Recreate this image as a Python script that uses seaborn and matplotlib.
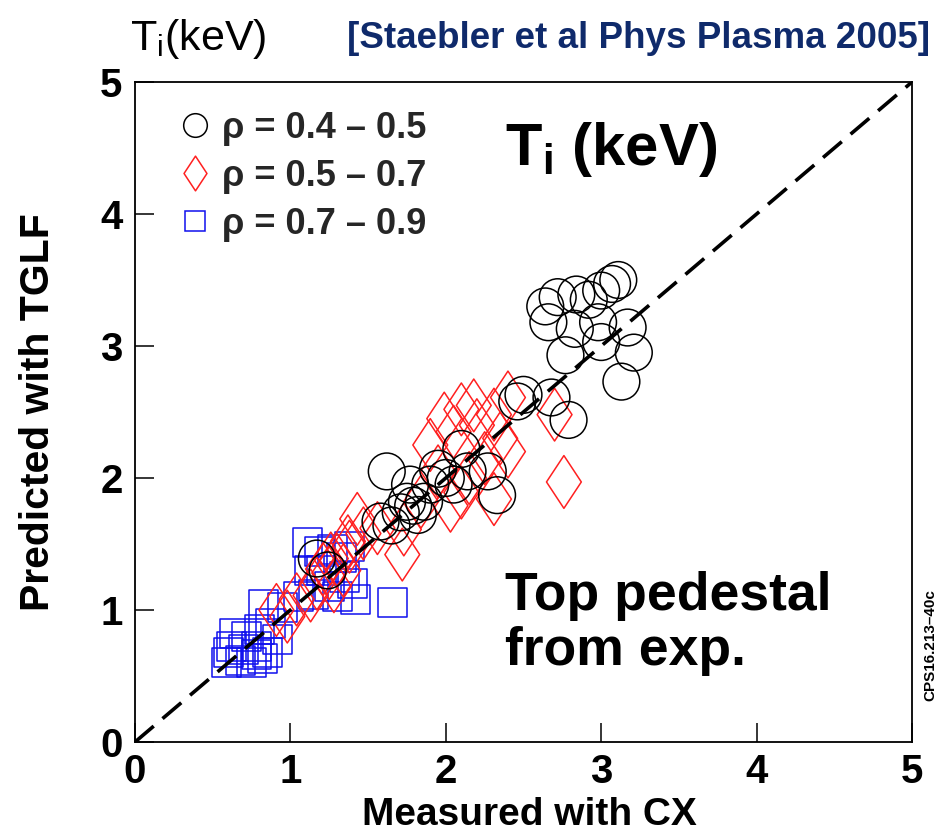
import numpy as np
import pandas as pd
import matplotlib
matplotlib.use("Agg")
import matplotlib.pyplot as plt
from matplotlib.path import Path
from matplotlib.lines import Line2D
from matplotlib.markers import MarkerStyle
import seaborn as sns

# Ion temperature at the top of the pedestal: measured (CX) vs predicted (TGLF), keV
circle_meas = [2.64, 2.72, 2.84, 2.92, 3.00, 3.07, 3.11, 2.66, 2.83, 2.98, 3.00, 3.17, 3.21,
               3.13, 2.77, 2.50, 2.68, 2.79, 2.46,
               1.62, 1.77, 1.95, 2.10, 2.14, 2.27, 2.33, 1.58, 1.71, 1.79, 1.86, 1.65, 1.90,
               2.00, 1.82, 1.75, 2.05, 1.17, 1.24]
circle_pred = [3.30, 3.37, 3.39, 3.35, 3.42, 3.47, 3.50, 3.18, 3.13, 3.18, 3.03, 3.14, 2.95,
               2.73, 2.93, 2.63, 2.61, 2.44, 2.58,
               2.05, 1.95, 2.07, 2.22, 2.05, 2.05, 1.87, 1.67, 1.74, 1.79, 1.82, 1.64, 1.95,
               2.00, 1.72, 1.82, 1.95, 1.39, 1.30]

diamond_meas = [2.76, 2.70, 1.72, 1.99, 2.10, 2.18, 2.40, 2.31, 2.35, 2.40, 1.90, 1.95, 2.10,
                2.03, 2.31, 1.84, 1.73, 1.43, 1.37, 1.26, 2.05, 2.20, 2.25, 2.15, 0.98, 1.04,
                1.17, 1.25, 1.34, 1.30, 1.38, 1.47, 1.56, 1.21, 1.13, 0.91, 1.28]
diamond_pred = [1.97, 2.48, 1.42, 2.45, 2.52, 2.55, 2.61, 2.48, 2.30, 2.20, 2.25, 2.05, 1.89,
                1.79, 1.84, 1.82, 1.61, 1.69, 1.52, 1.39, 2.35, 2.40, 2.15, 2.00, 0.95, 1.08,
                1.20, 1.28, 1.30, 1.38, 1.48, 1.58, 1.62, 1.31, 1.11, 1.00, 1.18]

square_meas = [1.11, 1.19, 1.27, 1.38, 1.33, 1.12, 1.20, 1.35, 1.40, 1.25, 1.05, 1.15, 1.42,
               1.66, 1.30, 0.83, 0.95, 0.64, 0.72, 0.80, 0.87, 0.62, 0.70, 0.78, 0.85, 0.59,
               0.68, 0.75, 0.82, 0.60, 0.78, 0.92]
square_pred = [1.51, 1.44, 1.46, 1.48, 1.40, 1.30, 1.30, 1.25, 1.20, 1.18, 1.10, 1.12, 1.08,
               1.06, 1.10, 1.04, 1.02, 0.82, 0.80, 0.85, 0.90, 0.72, 0.70, 0.72, 0.68, 0.60,
               0.62, 0.60, 0.63, 0.68, 0.66, 0.78]

rho_labels = ["\u03c1 = 0.4 \u2013 0.5", "\u03c1 = 0.5 \u2013 0.7", "\u03c1 = 0.7 \u2013 0.9"]
tick_values = [0, 1, 2, 3, 4, 5]

df = pd.concat([
    pd.DataFrame({"measured": circle_meas, "predicted": circle_pred, "rho": rho_labels[0]}),
    pd.DataFrame({"measured": diamond_meas, "predicted": diamond_pred, "rho": rho_labels[1]}),
    pd.DataFrame({"measured": square_meas, "predicted": square_pred, "rho": rho_labels[2]}),
], ignore_index=True)

sns.set_theme(style="white")
plt.rcParams["font.family"] = ["Liberation Sans", "DejaVu Sans"]
plt.rcParams["mathtext.fontset"] = "custom"
plt.rcParams["mathtext.rm"] = "Liberation Sans"
plt.rcParams["mathtext.bf"] = "Liberation Sans:bold"
plt.rcParams["mathtext.it"] = "Liberation Sans:italic"

# tall open diamond
tall_diamond = MarkerStyle(Path([(0, 1), (0.66, 0), (0, -1), (-0.66, 0), (0, 1)],
                                [Path.MOVETO, Path.LINETO, Path.LINETO, Path.LINETO,
                                 Path.CLOSEPOLY]))

styles = {
    rho_labels[2]: dict(marker="s", color="#1010ee", s=436),
    rho_labels[1]: dict(marker=tall_diamond, color="#ff2020", s=1444),
    rho_labels[0]: dict(marker="o", color="black", s=700),
}

fig = plt.figure(figsize=(9.4, 8.4), dpi=100)
ax = fig.add_axes([135 / 940, 98 / 840, 777 / 940, 660 / 840])

for key in [rho_labels[2], rho_labels[1], rho_labels[0]]:
    st = styles[key]
    sub = df[df["rho"] == key]
    sns.scatterplot(data=sub, x="measured", y="predicted", ax=ax, marker=st["marker"],
                    s=st["s"], facecolor="none", edgecolor=st["color"], linewidth=1.1,
                    legend=False, zorder=2)

# one-to-one reference line
ax.plot([0, 5], [0, 5], color="black", lw=2.6, dashes=(6.8, 3.2), zorder=3)

ax.set_xlim(0, 5)
ax.set_ylim(0, 5)
ax.set_xticks(tick_values)
ax.set_yticks(tick_values)
ax.set_xticklabels([str(v) for v in tick_values], fontsize=29, fontweight="bold")
ax.set_yticklabels([str(v) for v in tick_values], fontsize=29, fontweight="bold")
ax.tick_params(direction="in", length=14, width=1.1, bottom=True, left=True,
               top=False, right=False, color="black", labelcolor="black")
ax.tick_params(axis="x", pad=8)
ax.tick_params(axis="y", pad=9)
for sp in ax.spines.values():
    sp.set_visible(True)
    sp.set_color("black")
    sp.set_linewidth(1.3)

ax.set_xlabel("Measured with CX", fontsize=28, fontweight="bold", color="black")
ax.set_ylabel("Predicted with TGLF", fontsize=29.5, fontweight="bold", color="black")
ax.xaxis.set_label_coords(0.508, -0.083)
ax.yaxis.set_label_coords(-0.100, 0.5)

handles = [
    Line2D([], [], linestyle="", marker="o", markersize=17, markerfacecolor="none",
           markeredgecolor="black", markeredgewidth=1.1),
    Line2D([], [], linestyle="", marker=tall_diamond, markersize=25, markerfacecolor="none",
           markeredgecolor="#ff2020", markeredgewidth=1.1),
    Line2D([], [], linestyle="", marker="s", markersize=14.5, markerfacecolor="none",
           markeredgecolor="#1010ee", markeredgewidth=1.1),
]
ax.legend(handles, rho_labels, loc="upper left", bbox_to_anchor=(0.054, 0.956),
          frameon=False, handlelength=1.0, handletextpad=0.25, labelspacing=0.36,
          borderpad=0, borderaxespad=0,
          prop={"family": "Liberation Sans", "weight": "bold", "size": 26})

ax.text(2.38, 4.37, r"T$_\mathbf{i}$ (keV)", fontsize=43, fontweight="bold",
        va="baseline", ha="left", color="black")
ax.text(2.38, 1.00, "Top pedestal", fontsize=38.5, fontweight="bold",
        va="baseline", ha="left", color="black")
ax.text(2.38, 0.58, "from exp.", fontsize=38.5, fontweight="bold",
        va="baseline", ha="left", color="black")

fig.text(130 / 940, (840 - 50) / 840, r"T$_\mathregular{i}$(keV)", fontsize=31,
         va="baseline", ha="left", color="black")
fig.text(930 / 940, (840 - 48) / 840, "[Staebler et al Phys Plasma 2005]", fontsize=26.5,
         fontweight="bold", color="#0f2a6b", va="baseline", ha="right")
fig.text(930 / 940, (840 - 645) / 840, "CPS16.213\u201340c", fontsize=11, fontweight="bold",
         rotation=90, ha="center", va="center", color="black")

fig.savefig("out.png", dpi=100, facecolor="white")
